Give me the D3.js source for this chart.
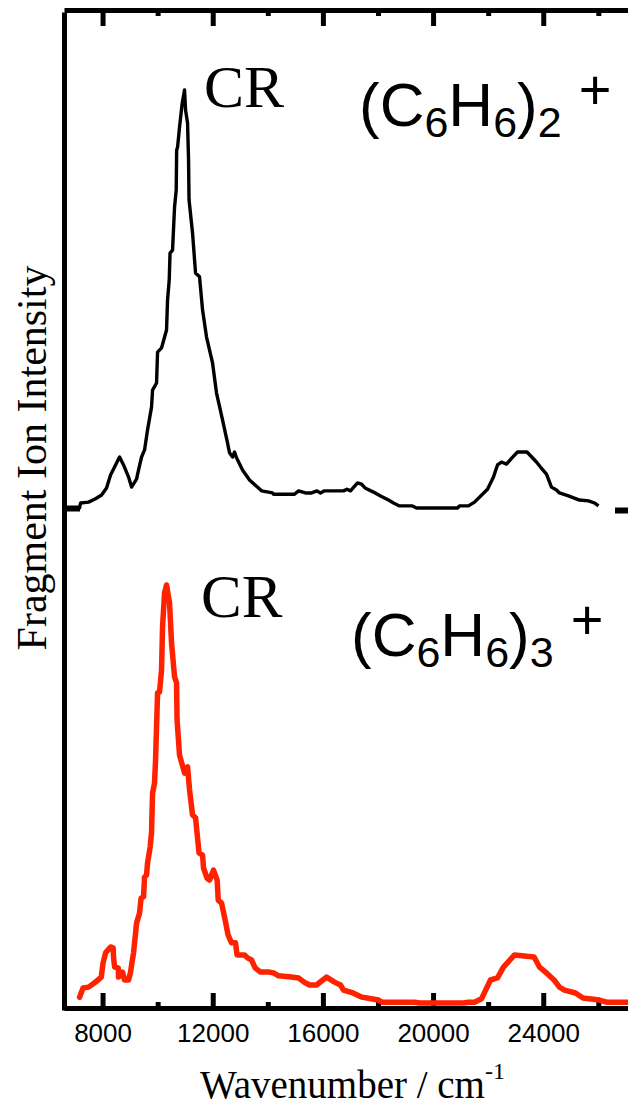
<!DOCTYPE html>
<html>
<head>
<meta charset="utf-8">
<script src="https://cdn.jsdelivr.net/npm/d3@7"></script>
<style>
  body { margin: 0; background: #fff; }
  svg { display: block; }
</style>
</head>
<body>
<div id="chart"></div>
<script>
// ---- data ----
// upper trace: (C6H6)2+  (wavenumber in cm-1, normalised intensity)
const dimerWavenumber = [6730,7165,7201,7492,7746,7964,8145,8290,8436,8617,8762,8944,9053,9234,9307,9416,9525,9634,9779,9815,9960,9997,10142,10323,10360,10420,10450,10541,10614,10675,10690,10725,10795,10893,10977,11013,11086,11122,11140,11267,11376,11521,11630,11775,11993,12138,12356,12537,12610,12719,12792,12864,13082,13336,13772,14171,14207,14970,15115,15369,15587,15786,15913,16059,16748,16875,17002,17257,17402,17529,17837,18091,18382,18563,18781,19253,19398,20887,20959,21286,21504,21976,22193,22339,22484,22665,22865,23065,23410,23754,23899,24117,24299,24480,24589,24916,25315,25642,25860,26005];
const dimerIntensity = [0,0,0.012,0.014,0.022,0.031,0.048,0.079,0.098,0.122,0.103,0.074,0.050,0.069,0.091,0.122,0.139,0.187,0.242,0.282,0.299,0.373,0.383,0.426,0.498,0.545,0.610,0.617,0.720,0.761,0.856,0.864,0.911,0.969,1.0,0.952,0.921,0.833,0.737,0.658,0.562,0.553,0.474,0.409,0.347,0.275,0.211,0.156,0.132,0.122,0.134,0.120,0.091,0.067,0.041,0.036,0.033,0.033,0.041,0.036,0.036,0.041,0.036,0.041,0.041,0.045,0.041,0.060,0.057,0.048,0.038,0.029,0.019,0.012,0.005,0.005,0,0,0.005,0.005,0.014,0.045,0.074,0.103,0.110,0.105,0.120,0.134,0.134,0.110,0.098,0.081,0.050,0.043,0.036,0.029,0.019,0.017,0.012,0.005];

// lower trace: (C6H6)3+
const trimerWavenumber = [7165,7292,7492,7746,7953,8018,8073,8109,8290,8385,8399,8436,8570,8581,8726,8799,8944,9016,9071,9125,9198,9234,9343,9398,9488,9525,9597,9634,9728,9779,9790,9815,9887,9924,9960,9997,10069,10142,10178,10251,10323,10432,10505,10614,10686,10705,10795,10977,11086,11158,11267,11376,11503,11630,11666,11793,11884,12029,12160,12200,12320,12465,12556,12683,12828,12882,13155,13264,13409,13539,13735,14062,14207,14389,14861,15115,15318,15514,15768,16131,16422,16639,16748,17093,17420,17750,18019,18146,19326,19525,21104,21286,21504,21758,22084,22339,22556,22956,23667,23863,24117,24393,24589,24771,25170,25442,26041,26295,27130];
const trimerIntensity = [0.014,0.036,0.038,0.050,0.062,0.096,0.110,0.120,0.134,0.132,0.110,0.086,0.084,0.062,0.074,0.055,0.055,0.074,0.098,0.120,0.167,0.191,0.215,0.251,0.254,0.301,0.306,0.335,0.373,0.409,0.438,0.502,0.526,0.581,0.660,0.742,0.744,0.797,0.900,0.981,1.0,0.957,0.861,0.780,0.766,0.677,0.593,0.550,0.565,0.510,0.450,0.443,0.359,0.354,0.323,0.299,0.294,0.318,0.294,0.246,0.239,0.194,0.163,0.144,0.144,0.115,0.115,0.108,0.103,0.084,0.074,0.074,0.072,0.065,0.062,0.060,0.050,0.043,0.043,0.062,0.050,0.043,0.031,0.024,0.014,0.010,0.007,0.002,0.002,0,0,0.002,0.002,0.010,0.055,0.060,0.086,0.115,0.110,0.086,0.072,0.055,0.038,0.031,0.024,0.012,0.007,0.002,0.002];

const majorTicks = [8000, 12000, 16000, 20000, 24000];
const minorTicks = [10000, 14000, 18000, 22000, 26000];

const width = 628, height = 1106;
const frame = { left: 64, right: 630, top: 10, bottom: 1008 };

const svg = d3.select("#chart")
    .append("svg")
        .attr("width", width)
        .attr("height", height);

// x scale shared by both traces
const x = d3.scaleLinear()
    .domain([6600, 27150])
    .range([frame.left, frame.right]);

// each trace gets its own vertical band
const yTop = d3.scaleLinear().domain([0, 1]).range([508, 90]);
const yBottom = d3.scaleLinear().domain([0, 1]).range([1003, 585]);

const serif = "'Liberation Serif', 'Times New Roman', serif";
const sans = "'Liberation Sans', Arial, Helvetica, sans-serif";

// bottom axis: major ticks pointing up, labels below
const bottomAxis = svg.append("g")
    .attr("transform", `translate(0,${frame.bottom})`)
    .call(d3.axisBottom(x).tickValues(majorTicks).tickSizeInner(-15).tickSizeOuter(0)
        .tickPadding(16).tickFormat(d3.format("d")));
bottomAxis.select(".domain").attr("stroke-width", 5);
bottomAxis.selectAll(".tick line").attr("stroke-width", 5);
bottomAxis.selectAll(".tick text")
    .attr("font-family", sans)
    .attr("font-size", 26)
    .attr("fill", "#000");

svg.append("g")
    .attr("transform", `translate(0,${frame.bottom})`)
    .call(d3.axisBottom(x).tickValues(minorTicks).tickSizeInner(-6).tickSizeOuter(0).tickFormat(""))
    .call(g => g.select(".domain").remove())
    .selectAll(".tick line").attr("stroke-width", 5);

// top axis: mirror ticks pointing down, no labels
const topAxis = svg.append("g")
    .attr("transform", `translate(0,${frame.top})`)
    .call(d3.axisTop(x).tickValues(majorTicks).tickSizeInner(-16).tickSizeOuter(0).tickFormat(""));
topAxis.select(".domain").attr("stroke-width", 5);
topAxis.selectAll(".tick line").attr("stroke-width", 5);

svg.append("g")
    .attr("transform", `translate(0,${frame.top})`)
    .call(d3.axisTop(x).tickValues(minorTicks).tickSizeInner(-6).tickSizeOuter(0).tickFormat(""))
    .call(g => g.select(".domain").remove())
    .selectAll(".tick line").attr("stroke-width", 5);

// left frame line
const yFrame = d3.scaleLinear().domain([0, 1]).range([frame.bottom + 2, frame.top + 2]);
svg.append("g")
    .attr("transform", `translate(${frame.left},0)`)
    .call(d3.axisLeft(yFrame).tickValues([]).tickSizeOuter(0))
    .select(".domain").attr("stroke-width", 5);

// zero-level marks of the upper trace, on both sides
svg.append("g")
    .attr("transform", `translate(${frame.left},0)`)
    .call(d3.axisRight(yTop).tickValues([0]).tickSize(16).tickFormat(""))
    .call(g => g.select(".domain").remove())
    .selectAll(".tick line").attr("stroke-width", 6);
svg.append("g")
    .attr("transform", `translate(${frame.right},2)`)
    .call(d3.axisLeft(yTop).tickValues([0]).tickSize(15).tickFormat(""))
    .call(g => g.select(".domain").remove())
    .selectAll(".tick line").attr("stroke-width", 6);

// traces
const dimerLine = d3.line()
    .x(i => x(dimerWavenumber[i]))
    .y(i => yTop(dimerIntensity[i]));
svg.append("path")
    .attr("d", dimerLine(d3.range(dimerWavenumber.length)))
    .attr("fill", "none")
    .attr("stroke", "#000")
    .attr("stroke-width", 3.4)
    .attr("stroke-linejoin", "round");

const trimerLine = d3.line()
    .x(i => x(trimerWavenumber[i]))
    .y(i => yBottom(trimerIntensity[i]));
svg.append("path")
    .attr("d", trimerLine(d3.range(trimerWavenumber.length)))
    .attr("fill", "none")
    .attr("stroke", "#ff2200")
    .attr("stroke-width", 5.5)
    .attr("stroke-linejoin", "round")
    .attr("stroke-linecap", "round");

// peak labels
svg.append("text")
    .attr("x", 204).attr("y", 107)
    .attr("font-family", serif).attr("font-size", 60)
    .text("CR");
svg.append("text")
    .attr("x", 201).attr("y", 617)
    .attr("font-family", serif).attr("font-size", 61)
    .text("CR");

// cluster formulas
function formula(xPos, yPos, n) {
    const t = svg.append("text")
        .attr("x", xPos).attr("y", yPos)
        .attr("font-family", sans).attr("font-size", 62);
    t.append("tspan").text("(C");
    t.append("tspan").attr("font-size", 43).attr("dy", 11).text("6");
    t.append("tspan").attr("dy", -11).text("H");
    t.append("tspan").attr("font-size", 43).attr("dy", 11).text("6");
    t.append("tspan").attr("dy", -11).text(")");
    t.append("tspan").attr("font-size", 43).attr("dy", 11).text(n);
    t.append("tspan").attr("font-size", 56).attr("dx", 17).attr("dy", -28).text("+");
}
formula(359, 126, "2");
formula(351, 656, "3");

// axis titles
svg.append("text")
    .attr("transform", "translate(46,458) rotate(-90)")
    .attr("text-anchor", "middle")
    .attr("font-family", serif).attr("font-size", 42)
    .text("Fragment Ion Intensity");

const xTitle = svg.append("text")
    .attr("x", 200).attr("y", 1098)
    .attr("font-family", serif).attr("font-size", 39);
xTitle.append("tspan").text("Wavenumber / cm");
xTitle.append("tspan").attr("font-size", 24).attr("dy", -19).text("-1");
</script>
</body>
</html>
